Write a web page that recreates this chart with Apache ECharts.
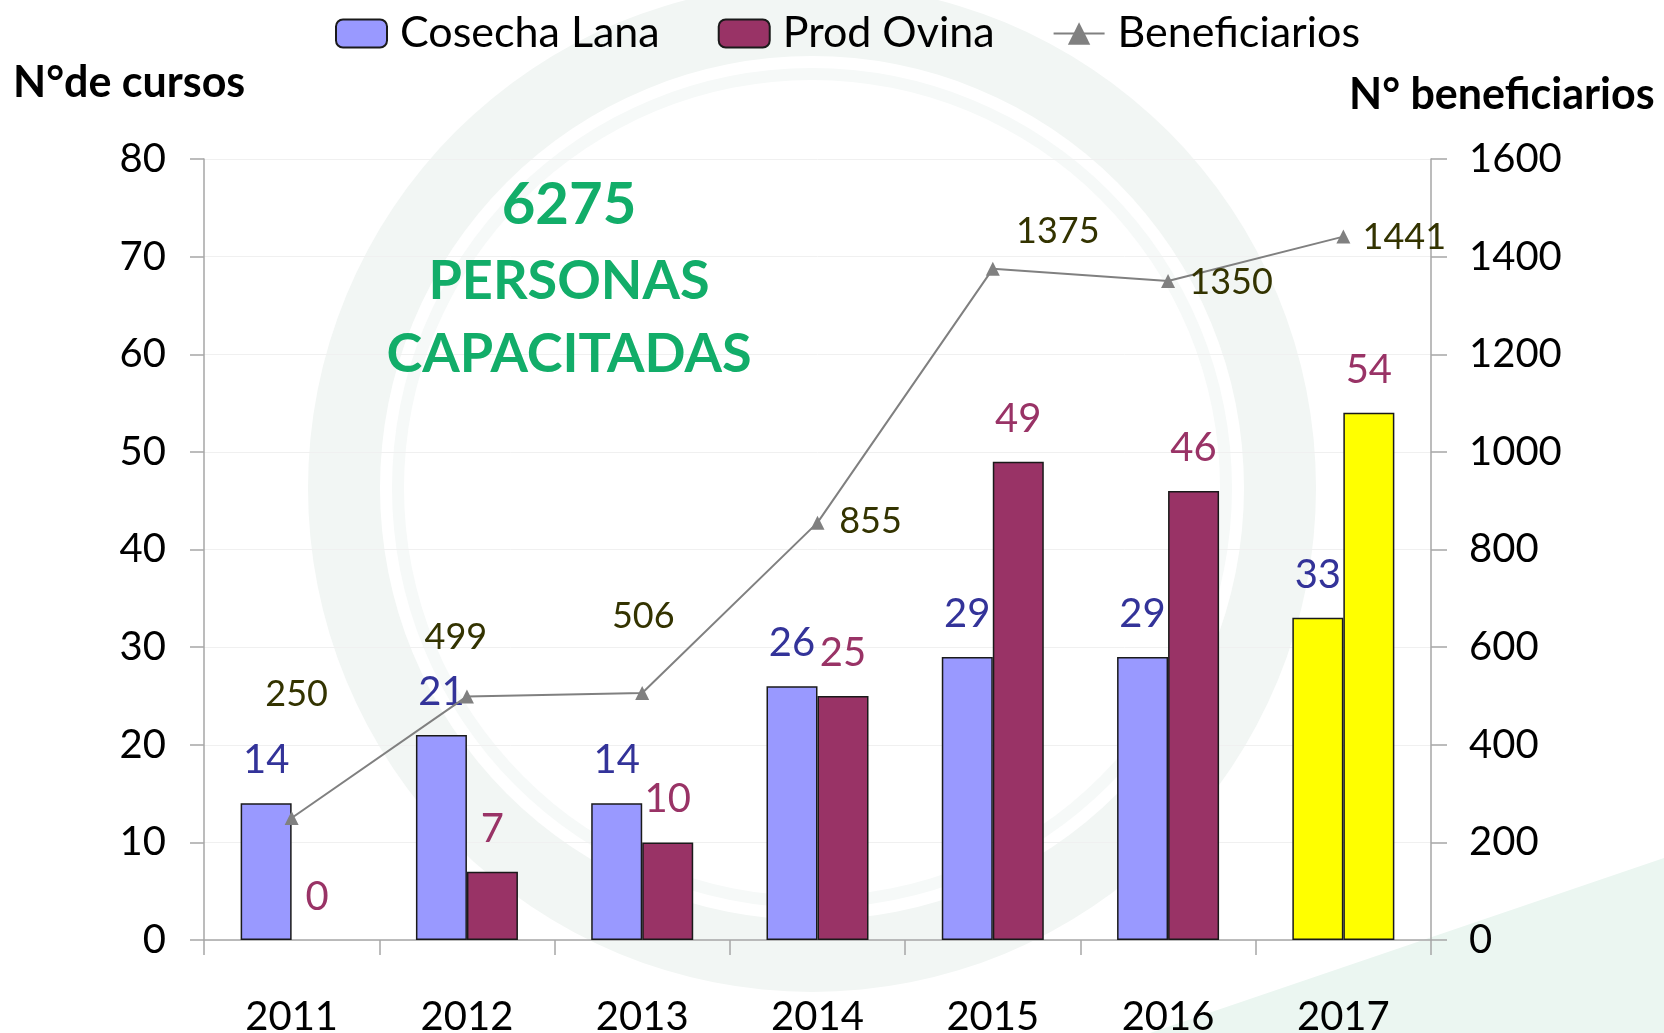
<!DOCTYPE html>
<html>
<head>
<meta charset="utf-8">
<script src="https://cdn.jsdelivr.net/npm/echarts@6/dist/echarts.min.js"></script>
<style>
html,body{margin:0;padding:0;background:#fff;}
#main{width:1664px;height:1033px;}
</style>
</head>
<body>
<div id="main"></div>
<script>
// ---- data ----
const categories = ['2011', '2012', '2013', '2014', '2015', '2016', '2017'];
const cosechaLana = [14, 21, 14, 26, 29, 29, 33];
const prodOvina = [0, 7, 10, 25, 49, 46, 54];
const beneficiarios = [250, 499, 506, 855, 1375, 1350, 1441];
const seriesNames = ['Cosecha Lana', 'Prod Ovina', 'Beneficiarios'];
const highlightCategory = '2017';
const totalText = ['6275', 'PERSONAS', 'CAPACITADAS'];

// ---- styles ----
const FONT = 'Lato';
const lineLabelOffsets = [[5, -124], [-11, -59], [1, -77], [53, -1], [65, -37], [63, 1], [61, 1]];

function barItems(values) {
  return values.map((v, i) => {
    const item = { value: v };
    if (categories[i] === highlightCategory) item.itemStyle = { color: '#FFFF00' };
    if (v === 0) item.itemStyle = Object.assign({}, item.itemStyle, { borderWidth: 0 });
    return item;
  });
}

const chart = echarts.init(document.getElementById('main'), null, { renderer: 'canvas' });

const option = {
  backgroundColor: '#ffffff',
  animation: false,
  textStyle: { fontFamily: FONT },
  graphic: [
    { type: 'ring', z: -10, shape: { cx: 812, cy: 488, r: 504, r0: 432 }, style: { fill: '#f2f6f4' } },
    { type: 'ring', z: -10, shape: { cx: 812, cy: 488, r: 420, r0: 408 }, style: { fill: '#f6f9f8' } },
    { type: 'polygon', z: -10, shape: { points: [[1150, 1033], [1664, 858], [1664, 1033]] }, style: { fill: '#ebf6f1' } },
    { type: 'text', z: 20, left: 13, top: 62, style: { text: 'N°de cursos', font: 'bold 43px Lato', fill: '#000' } },
    { type: 'text', z: 20, left: 1349, top: 74, style: { text: 'N° beneficiarios', font: 'bold 43px Lato', fill: '#000' } },
    { type: 'text', z: 20, x: 569, y: 205, style: { text: totalText[0], font: 'bold 58px Lato', fill: '#12ad69', align: 'center', verticalAlign: 'middle' } },
    { type: 'text', z: 20, x: 569, y: 282, style: { text: totalText[1], font: 'bold 54px Lato', fill: '#12ad69', align: 'center', verticalAlign: 'middle' } },
    { type: 'text', z: 20, x: 569, y: 355, style: { text: totalText[2], font: 'bold 54px Lato', fill: '#12ad69', align: 'center', verticalAlign: 'middle' } }
  ],
  legend: {
    data: seriesNames,
    left: 335,
    top: 12,
    padding: 0,
    itemGap: 58,
    itemWidth: 51,
    itemHeight: 28,
    textStyle: { fontFamily: FONT, fontSize: 43, color: '#000', padding: [0, 0, 0, 8] }
  },
  grid: { left: 204, right: 233, top: 159, bottom: 93, containLabel: false, outerBoundsMode: 'none' },
  xAxis: {
    type: 'category',
    data: categories,
    boundaryGap: true,
    axisLine: { lineStyle: { color: '#a6a6a6', width: 1.5 } },
    axisTick: { show: true, length: 15, lineStyle: { color: '#a6a6a6', width: 1.5 } },
    axisLabel: { fontFamily: FONT, fontSize: 40, color: '#000', margin: 57 }
  },
  yAxis: [
    {
      type: 'value', min: 0, max: 80, interval: 10, position: 'left',
      axisLine: { show: true, lineStyle: { color: '#a6a6a6', width: 1.5 } },
      axisTick: { show: true, length: 14, lineStyle: { color: '#a6a6a6', width: 1.5 } },
      axisLabel: { fontFamily: FONT, fontSize: 40, color: '#000', margin: 38 },
      splitLine: { show: true, lineStyle: { color: '#f0f0f0', width: 1 } }
    },
    {
      type: 'value', min: 0, max: 1600, interval: 200, position: 'right',
      axisLine: { show: true, lineStyle: { color: '#a6a6a6', width: 1.5 } },
      axisTick: { show: true, length: 16, lineStyle: { color: '#a6a6a6', width: 1.5 } },
      axisLabel: { fontFamily: FONT, fontSize: 40, color: '#000', margin: 38, formatter: v => String(v) },
      splitLine: { show: false }
    }
  ],
  series: [
    {
      name: seriesNames[0], type: 'bar', yAxisIndex: 0,
      data: barItems(cosechaLana),
      barWidth: 51, barGap: '0%',
      itemStyle: { color: '#9999FF', borderColor: '#1a1a1a', borderWidth: 1.5 },
      label: { show: true, position: 'top', distance: 23, fontFamily: FONT, fontSize: 40, color: '#333399' },
      z: 3
    },
    {
      name: seriesNames[1], type: 'bar', yAxisIndex: 0,
      data: barItems(prodOvina),
      barWidth: 51, barGap: '0%',
      itemStyle: { color: '#993366', borderColor: '#1a1a1a', borderWidth: 1.5 },
      label: { show: true, position: 'top', distance: 23, fontFamily: FONT, fontSize: 40, color: '#993366' },
      z: 3
    },
    {
      name: seriesNames[2], type: 'line', yAxisIndex: 1,
      data: beneficiarios.map((v, i) => ({
        value: v,
        label: { offset: lineLabelOffsets[i] }
      })),
      symbol: 'triangle', symbolSize: 14,
      lineStyle: { color: '#808080', width: 2 },
      itemStyle: { color: '#808080' },
      label: { show: true, position: 'inside', fontFamily: FONT, fontSize: 36, color: '#333300' },
      z: 5
    }
  ]
};
chart.setOption(option);
</script>
</body>
</html>
